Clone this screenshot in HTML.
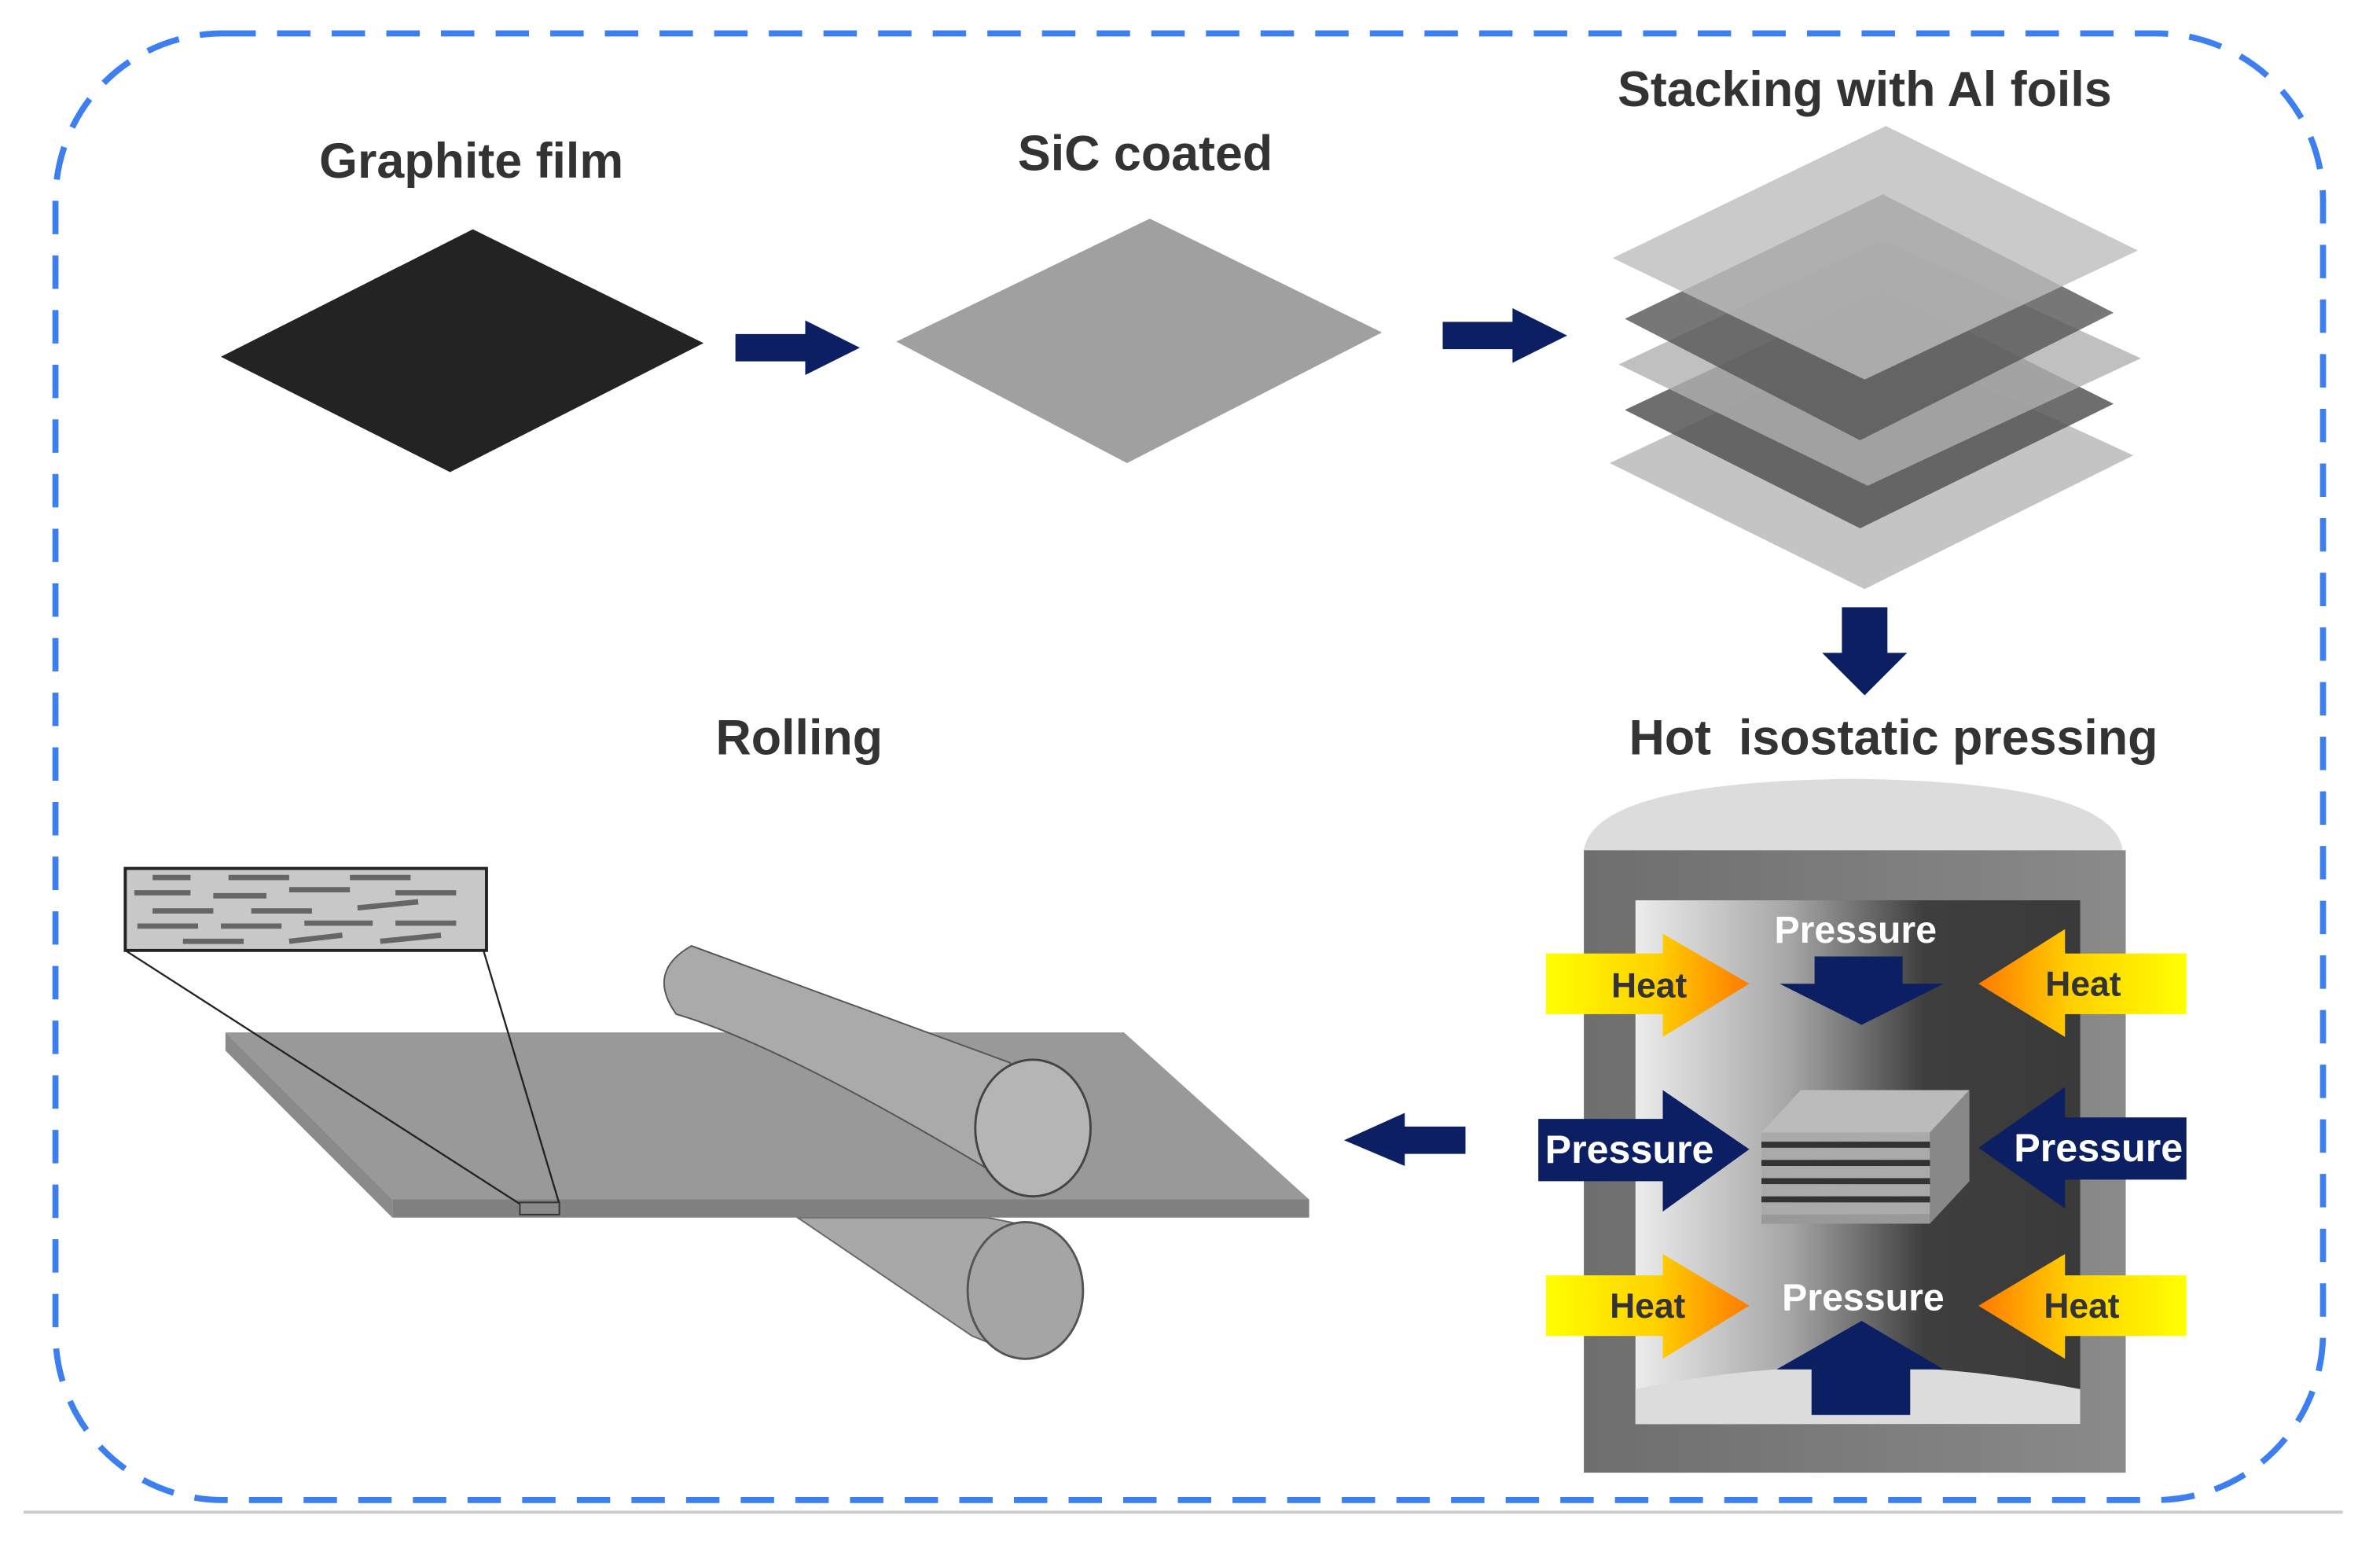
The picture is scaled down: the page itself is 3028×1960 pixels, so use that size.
<!DOCTYPE html>
<html><head><meta charset="utf-8"><style>html,body{margin:0;padding:0;background:#fff}svg{display:block}</style></head>
<body>
<svg width="3028" height="1960" viewBox="0 0 1567 1015" xmlns="http://www.w3.org/2000/svg" font-family="'Liberation Sans',sans-serif" font-weight="bold">
<defs>
<linearGradient id="inner" x1="0" x2="1" y1="0" y2="0"><stop offset="0" stop-color="#ececec"/><stop offset="0.35" stop-color="#a5a5a5"/><stop offset="0.65" stop-color="#3e3e3e"/><stop offset="1" stop-color="#3a3a3a"/></linearGradient>
<linearGradient id="outer" x1="0" x2="1"><stop offset="0" stop-color="#6e6e6e"/><stop offset="1" stop-color="#8a8a8a"/></linearGradient>
<linearGradient id="heatL" x1="0" x2="1"><stop offset="0" stop-color="#ffff00"/><stop offset="0.55" stop-color="#ffd000"/><stop offset="1" stop-color="#ff7a00"/></linearGradient>
<linearGradient id="heatR" x1="1" x2="0"><stop offset="0" stop-color="#ffff00"/><stop offset="0.55" stop-color="#ffd000"/><stop offset="1" stop-color="#ff7a00"/></linearGradient>
</defs>
<rect x="36" y="22" width="1494" height="966" rx="110" fill="none" stroke="#3d7ff0" stroke-width="4" stroke-dasharray="22 14"/>
<line x1="15" y1="996" x2="1543" y2="996" stroke="#ccc" stroke-width="2"/>

<text x="310" y="117" font-size="32.5" fill="#333" text-anchor="middle">Graphite film</text>
<text x="754" y="112" font-size="32.5" fill="#333" text-anchor="middle">SiC coated</text>
<text x="1228" y="70" font-size="32.5" fill="#333" text-anchor="middle">Stacking with Al foils</text>
<text x="1247" y="497" font-size="32.5" fill="#333" text-anchor="middle">Hot&#160; isostatic pressing</text>
<text x="526" y="497" font-size="32.5" fill="#333" text-anchor="middle">Rolling</text>

<polygon points="145,235 311,151 463,226 296,311" fill="#232323"/>
<polygon points="484,220 530,220 530,211 566,229 530,247 530,238 484,238" fill="#0d1f63"/>
<polygon points="590,225 757,144 910,219 742,305" fill="#a0a0a0"/>
<polygon points="950,212 996,212 996,203 1032,221 996,239 996,230 950,230" fill="#0d1f63"/>

<polygon points="1060,305 1236,222 1405,300 1228,388" fill="#c4c4c4"/>
<polygon points="1070,270 1240,190 1392,266 1225,348" fill="#555" fill-opacity="0.85"/>
<polygon points="1066,240 1240,158 1410,236 1230,320" fill="#b0b0b0" fill-opacity="0.8"/>
<polygon points="1070,210 1240,128 1392,206 1225,290" fill="#555" fill-opacity="0.8"/>
<polygon points="1062,170 1242,83 1408,165 1228,250" fill="#bdbdbd" fill-opacity="0.8"/>
<polygon points="1213,400 1243,400 1243,430 1256,430 1228,458 1200,430 1213,430" fill="#0d1f63"/>

<path d="M1043,560 Q1050,515 1220,513 Q1392,515 1398,560 Z" fill="#dcdcdc"/>
<rect x="1043" y="560" width="357" height="410" fill="url(#outer)"/>
<rect x="1077" y="593" width="293" height="345" fill="url(#inner)"/>
<path d="M1077,938 L1077,915 Q1220,885 1370,915 L1370,938 Z" fill="#dcdcdc"/>
<g>
<polygon points="1160,746 1186,718 1297,718 1271,746" fill="#bbb"/>
<polygon points="1271,746 1297,718 1297,778 1271,806" fill="#888"/>
<rect x="1160" y="746" width="111" height="6" fill="#aaa"/>
<rect x="1160" y="752" width="111" height="4" fill="#333"/>
<rect x="1160" y="756" width="111" height="8" fill="#aaa"/>
<rect x="1160" y="764" width="111" height="4" fill="#333"/>
<rect x="1160" y="768" width="111" height="8" fill="#aaa"/>
<rect x="1160" y="776" width="111" height="4" fill="#333"/>
<rect x="1160" y="780" width="111" height="8" fill="#aaa"/>
<rect x="1160" y="788" width="111" height="4" fill="#333"/>
<rect x="1160" y="792" width="111" height="8" fill="#aaa"/>
<rect x="1160" y="800" width="111" height="6" fill="#999"/>
</g>
<polygon points="1195,630 1253,630 1253,648 1280,648 1226,675 1172,648 1195,648" fill="#0d1f63"/>
<polygon points="1226,870 1280,902 1258,902 1258,932 1193,932 1193,902 1170,902" fill="#0d1f63"/>
<text x="1222" y="621" font-size="25" fill="#fff" text-anchor="middle">Pressure</text>
<text x="1227" y="863" font-size="25" fill="#fff" text-anchor="middle">Pressure</text>
<polygon points="1018,628 1095,628 1095,615 1152,648 1095,683 1095,668 1018,668" fill="url(#heatL)"/>
<polygon points="1440,628 1360,628 1360,612 1303,648 1360,683 1360,668 1440,668" fill="url(#heatR)"/>
<polygon points="1018,840 1095,840 1095,826 1152,860 1095,895 1095,880 1018,880" fill="url(#heatL)"/>
<polygon points="1440,840 1360,840 1360,826 1303,860 1360,895 1360,880 1440,880" fill="url(#heatR)"/>
<text x="1086" y="657" font-size="23" fill="#333" text-anchor="middle">Heat</text>
<text x="1372" y="656" font-size="23" fill="#333" text-anchor="middle">Heat</text>
<text x="1085" y="868" font-size="23" fill="#333" text-anchor="middle">Heat</text>
<text x="1371" y="868" font-size="23" fill="#333" text-anchor="middle">Heat</text>
<polygon points="1013,737 1095,737 1095,718 1152,757 1095,798 1095,778 1013,778" fill="#0d1f63"/>
<polygon points="1440,736 1360,736 1360,716 1303,756 1360,796 1360,777 1440,777" fill="#0d1f63"/>
<text x="1073" y="766" font-size="26" fill="#fff" text-anchor="middle">Pressure</text>
<text x="1382" y="765" font-size="26" fill="#fff" text-anchor="middle">Pressure</text>

<polygon points="965,742 925,742 925,733 885,751 925,768 925,760 965,760" fill="#0d1f63"/>

<polygon points="525,802 650,802 690,810 665,890 640,880" fill="#a8a8a8" stroke="#666" stroke-width="1"/>
<ellipse cx="675" cy="850" rx="38" ry="45" fill="#a5a5a5" stroke="#555" stroke-width="1.5"/>
<polygon points="148,680 740,680 862,790 258,790" fill="#999"/>
<polygon points="148,680 148,692 258,802 258,790" fill="#8a8a8a"/>
<rect x="258" y="790" width="604" height="12" fill="#808080"/>
<path d="M455,623 L665,700 L680,788 Q520,690 445,668 Q425,640 455,623 Z" fill="#aaa" stroke="#555" stroke-width="1"/>
<ellipse cx="680" cy="743" rx="38" ry="45" fill="#b5b5b5" stroke="#444" stroke-width="1.5"/>
<rect x="82" y="572" width="238" height="54" fill="#c8c8c8" stroke="#222" stroke-width="2"/>
<g stroke="#666" stroke-width="3.5">
<line x1="100" y1="578" x2="125" y2="578"/><line x1="150" y1="578" x2="190" y2="578"/><line x1="230" y1="578" x2="270" y2="578"/>
<line x1="88" y1="588" x2="125" y2="588"/><line x1="140" y1="590" x2="175" y2="590"/><line x1="190" y1="586" x2="230" y2="586"/><line x1="260" y1="588" x2="300" y2="588"/>
<line x1="100" y1="600" x2="140" y2="600"/><line x1="165" y1="600" x2="205" y2="600"/><line x1="235" y1="598" x2="275" y2="594"/>
<line x1="90" y1="610" x2="130" y2="610"/><line x1="145" y1="610" x2="185" y2="610"/><line x1="200" y1="608" x2="245" y2="608"/><line x1="260" y1="608" x2="300" y2="608"/>
<line x1="120" y1="620" x2="160" y2="620"/><line x1="190" y1="620" x2="225" y2="616"/><line x1="250" y1="620" x2="290" y2="616"/>
</g>
<line x1="82" y1="626" x2="342" y2="793" stroke="#222" stroke-width="1.2"/>
<line x1="318" y1="626" x2="368" y2="793" stroke="#222" stroke-width="1.2"/>
<rect x="342" y="792" width="26" height="8" fill="#8a8a8a" stroke="#333" stroke-width="1"/>
</svg>
</body></html>
